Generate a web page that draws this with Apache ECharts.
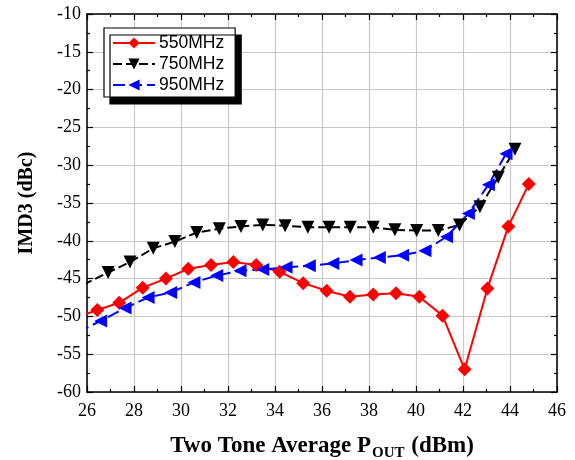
<!DOCTYPE html>
<html>
<head>
<meta charset="utf-8">
<script src="https://cdn.jsdelivr.net/npm/echarts@6/dist/echarts.min.js"></script>
<style>html,body{margin:0;padding:0;background:#fff}#c{width:575px;height:460px}</style>
</head>
<body>
<div id="c"></div>
<script>
var seriesNames = ['550MHz', '750MHz', '950MHz'];
var x550 = [25.5, 26.44, 27.37, 28.37, 29.36, 30.31, 31.28, 32.23, 33.2, 34.2, 35.2, 36.2, 37.19, 38.18, 39.15, 40.14, 41.13, 42.07, 43.04, 43.93, 44.8];
var y550 = [-50.2, -49.15, -48.2, -46.2, -45.0, -43.7, -43.2, -42.8, -43.2, -44.1, -45.6, -46.6, -47.4, -47.1, -46.95, -47.4, -49.9, -57.0, -46.3, -38.1, -32.5];
var x750 = [25.85, 26.9, 27.83, 28.82, 29.74, 30.67, 31.63, 32.55, 33.48, 34.43, 35.4, 36.3, 37.2, 38.18, 39.1, 40.03, 40.95, 41.85, 42.72, 43.5, 44.21];
var y750 = [-45.8, -44.2, -42.8, -41.0, -40.1, -38.9, -38.4, -38.1, -37.9, -38.0, -38.2, -38.2, -38.2, -38.2, -38.55, -38.65, -38.65, -37.9, -35.5, -31.6, -27.9];
var x950 = [25.6, 26.58, 27.62, 28.6, 29.56, 30.55, 31.52, 32.51, 33.48, 34.47, 35.46, 36.46, 37.45, 38.44, 39.43, 40.38, 41.3, 42.23, 43.08, 43.83];
var y950 = [-52.1, -50.6, -48.9, -47.5, -46.85, -45.5, -44.6, -43.95, -43.8, -43.5, -43.3, -43.0, -42.55, -42.2, -41.9, -41.3, -39.45, -36.4, -32.6, -28.5];
var xTicks = [26, 28, 30, 32, 34, 36, 38, 40, 42, 44, 46];
var yTicks = [-60, -55, -50, -45, -40, -35, -30, -25, -20, -15, -10];

function zip(a, b) { return a.map(function (v, i) { return [v, b[i]]; }); }

var serif = '"Liberation Serif", "Times New Roman", serif';
var sans = '"Liberation Sans", Arial, sans-serif';
var axisLine = { show: true, onZero: false, lineStyle: { color: '#000', width: 1.5 } };

function xAx(pos, labels) {
  return {
    type: 'value', position: pos, min: xTicks[0], max: xTicks[xTicks.length - 1], interval: 2,
    axisLine: axisLine,
    axisTick: { show: true, inside: true, length: 6, lineStyle: { color: '#000', width: 1.2 } },
    minorTick: { show: true, splitNumber: 2, length: 3, lineStyle: { color: '#000', width: 1.2 } },
    splitLine: { show: labels, lineStyle: { color: '#c8c8c8', width: 1.2 } },
    axisLabel: { show: labels, color: '#000', fontFamily: serif, fontSize: 18, margin: 10 },
    name: labels ? '{a|Two Tone Average P}{s|OUT}{a| (dBm)}' : '',
    nameLocation: 'middle', nameGap: 40,
    nameTextStyle: { rich: {
      a: { fontFamily: serif, fontWeight: 'bold', fontSize: 23, color: '#000' },
      s: { fontFamily: serif, fontWeight: 'bold', fontSize: 15, color: '#000', verticalAlign: 'bottom', padding: [14, 1, 0, 1] }
    } }
  };
}
function yAx(pos, labels) {
  return {
    type: 'value', position: pos, min: yTicks[0], max: yTicks[yTicks.length - 1], interval: 5,
    axisLine: axisLine,
    axisTick: { show: true, inside: true, length: 6, lineStyle: { color: '#000', width: 1.2 } },
    minorTick: { show: true, splitNumber: 2, length: 3, lineStyle: { color: '#000', width: 1.2 } },
    splitLine: { show: labels, lineStyle: { color: '#c8c8c8', width: 1.2 } },
    axisLabel: { show: labels, color: '#000', fontFamily: serif, fontSize: 18, margin: 6 },
    name: labels ? 'IMD3 (dBc)' : '',
    nameLocation: 'middle', nameGap: 50,
    nameTextStyle: { fontFamily: serif, fontWeight: 'bold', fontSize: 20, color: '#000' }
  };
}

var chart = echarts.init(document.getElementById('c'), null, { renderer: 'canvas' });
chart.setOption({
  animation: false,
  backgroundColor: '#fff',
  grid: { left: 87, right: 18, top: 14, bottom: 68, containLabel: false, outerBoundsMode: 'none' },
  xAxis: [xAx('bottom', true), xAx('top', false)],
  yAxis: [yAx('left', true), yAx('right', false)],
  legend: {
    left: 104, top: 28, orient: 'vertical',
    padding: [6, 11, 3, 8],
    itemWidth: 42, itemHeight: 14, itemGap: 3,
    backgroundColor: '#fff', borderColor: '#000', borderWidth: 1.2,
    shadowColor: '#000', shadowBlur: 0, shadowOffsetX: 6, shadowOffsetY: 7,
    textStyle: { fontFamily: sans, fontSize: 17.5, lineHeight: 18, color: '#000', padding: [0, 0, 0, -1] },
    data: seriesNames
  },
  series: [
    { name: seriesNames[0], type: 'line', data: zip(x550, y550), clip: true,
      symbol: 'diamond', symbolSize: 14,
      itemStyle: { color: '#ff0000' }, lineStyle: { color: '#ff0000', width: 2 } },
    { name: seriesNames[1], type: 'line', data: zip(x750, y750), clip: true,
      symbol: 'triangle', symbolRotate: 180, symbolSize: 13,
      itemStyle: { color: '#000' }, lineStyle: { color: '#000', width: 2, type: [9, 4] } },
    { name: seriesNames[2], type: 'line', data: zip(x950, y950), clip: true,
      symbol: 'triangle', symbolRotate: 90, symbolSize: 13,
      itemStyle: { color: '#0000ff' }, lineStyle: { color: '#0000ff', width: 2, type: [12, 5] } }
  ]
});
</script>
</body>
</html>
